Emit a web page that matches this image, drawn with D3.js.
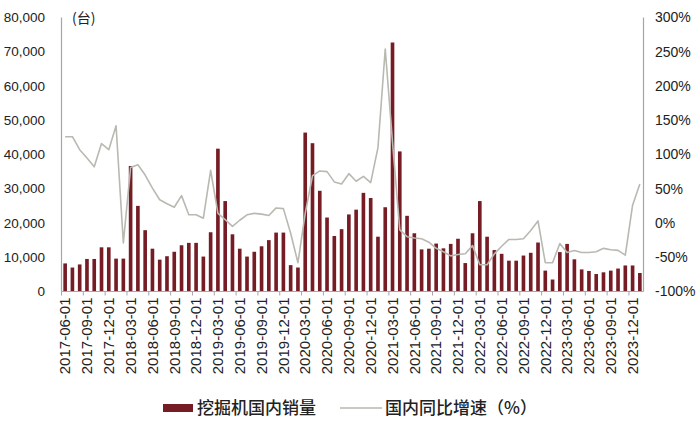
<!DOCTYPE html>
<html><head><meta charset="utf-8">
<script src="https://cdn.jsdelivr.net/npm/d3@7"></script>
<style>body{margin:0;background:#fff;}svg{display:block;}</style>
</head><body>
<svg id="c" width="700" height="421"></svg>
<script>
const months = [];
(function(){ let y=2017,m=6; for(let i=0;i<80;i++){ months.push(y+"-"+String(m).padStart(2,"0")+"-01"); m++; if(m>12){m=1;y++;} } })();
const sales = [8200,7000,7900,9500,9500,12900,12900,9600,9600,36650,
  25000,17900,12500,9300,10300,11600,13500,14200,14200,10200,
  17300,41700,26400,16700,12500,10200,11600,13200,15000,17200,
  17200,7700,7000,46400,43300,29400,21600,16200,18200,22500,
  23900,28800,27300,16000,24600,72700,40900,22100,17000,12300,
  12500,14000,12600,13900,15400,8300,17000,26400,16000,12100,
  11000,9000,9000,10500,11300,14300,6100,3500,11500,13900,
  9400,6450,6000,5100,5600,6100,6700,7600,7600,5400];
const yoy = [126,126,107,95,82,116,107,142,-29,81,
  85,70,51,34,28,23,40,12,12,7,
  77,14,5,-5,4,12,14,13,11,22,
  21,-15,-58,14,69,76,75,60,57,72,
  61,68,59,110,254,118,-10,-20,-22,-23,
  -28,-37,-42,-48,-46,-45,-33,-61,-61,-45,
  -34,-24,-24,-23,-11,3,-58,-58,-30,-43,
  -40,-43,-43,-42,-37,-39,-40,-47,26,57];
const leftTicks = [0,10000,20000,30000,40000,50000,60000,70000,80000];
const rightTicks = [-100,-50,0,50,100,150,200,250,300];
const unitLabel = "(台)";
const legendBar = "挖掘机国内销量";
const legendLine = "国内同比增速（%）";

const svg = d3.select("#c");
const L = 61.5, R = 643.5, T = 17.5, B = 291.5;
const x = d3.scaleBand().domain(d3.range(months.length)).range([L,R]).paddingInner(0.5).paddingOuter(0.25);
const yL = d3.scaleLinear().domain([0,80000]).range([B,T]);
const yR = d3.scaleLinear().domain([-100,300]).range([B,T]);
const numFont = "'Liberation Sans', Arial, sans-serif";
const cjkFont = "'Noto Sans CJK SC', sans-serif";
const axisCol = "#a6a6a6";

// bars
svg.append("g").selectAll("rect").data(sales).join("rect")
  .attr("x",(d,i)=>x(i)).attr("width",x.bandwidth())
  .attr("y",d=>yL(d)).attr("height",d=>B-yL(d))
  .attr("fill","#761c25");

// line
const line = d3.line().x((d,i)=>x(i)+x.bandwidth()/2).y(d=>yR(d));
svg.append("path").datum(yoy).attr("d",line).attr("fill","none")
  .attr("stroke","#b9b9b2").attr("stroke-width",1.6).attr("stroke-linejoin","round");

// axes lines
svg.append("line").attr("x1",L).attr("x2",L).attr("y1",T).attr("y2",B).attr("stroke",axisCol).attr("stroke-width",1.2);
svg.append("line").attr("x1",R).attr("x2",R).attr("y1",T).attr("y2",B).attr("stroke",axisCol).attr("stroke-width",1.2);
svg.append("line").attr("x1",L).attr("x2",R).attr("y1",B).attr("y2",B).attr("stroke",axisCol).attr("stroke-width",1);

// left tick labels
svg.append("g").selectAll("text").data(leftTicks).join("text")
  .attr("x",45).attr("y",d=>yL(d)).attr("dy","0.35em").attr("text-anchor","end")
  .attr("font-family",numFont).attr("font-size",13.5).attr("fill","#222")
  .text(d=>d3.format(",")(d));
// right tick labels
svg.append("g").selectAll("text").data(rightTicks).join("text")
  .attr("x",655).attr("y",d=>yR(d)).attr("dy","0.35em").attr("text-anchor","start")
  .attr("font-family",numFont).attr("font-size",14).attr("fill","#222")
  .text(d=>d+"%");

svg.append("text").attr("x",72).attr("y",18).attr("dy","0.35em")
  .attr("font-family",cjkFont).attr("font-size",14).attr("fill","#222").text(unitLabel);

// x ticks & labels
const idx = d3.range(0,months.length,3);
const gap = (x.step()-x.bandwidth())/2;
svg.append("g").selectAll("line").data(idx).join("line")
  .attr("x1",i=>x(i)-gap).attr("x2",i=>x(i)-gap).attr("y1",B).attr("y2",B+4)
  .attr("stroke",axisCol);
svg.append("g").selectAll("text").data(idx.filter(i=>i<79)).join("text")
  .attr("transform",i=>`translate(${x(i)+x.bandwidth()/2},${B+6}) rotate(-90)`)
  .attr("dy","0.35em").attr("text-anchor","end")
  .attr("font-family",numFont).attr("font-size",15).attr("fill","#222")
  .text(i=>months[i]);

// legend
svg.append("rect").attr("x",163).attr("y",404).attr("width",30).attr("height",8).attr("fill","#761c25");
svg.append("text").attr("x",197).attr("y",408).attr("dy","0.35em")
  .attr("font-family",cjkFont).attr("font-size",17).attr("font-weight",500).attr("fill","#222").text(legendBar);
svg.append("line").attr("x1",340).attr("x2",382).attr("y1",408).attr("y2",408).attr("stroke","#b9b9b2").attr("stroke-width",1.6);
svg.append("text").attr("x",385).attr("y",408).attr("dy","0.35em")
  .attr("font-family",cjkFont).attr("font-size",17).attr("font-weight",500).attr("fill","#222").text(legendLine);
</script>
</body></html>
